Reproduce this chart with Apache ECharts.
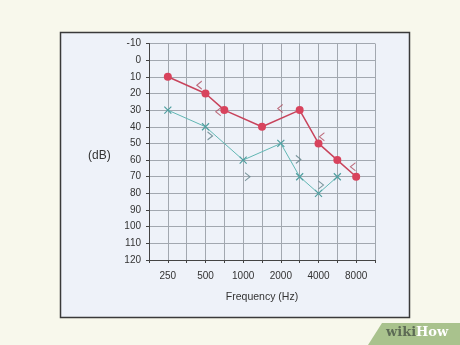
<!DOCTYPE html>
<html>
<head>
<meta charset="utf-8">
<script src="https://cdn.jsdelivr.net/npm/echarts@6/dist/echarts.min.js"></script>
<style>
  html, body { margin: 0; padding: 0; background: #f8f8ec; }
  #chart { width: 460px; height: 345px; }
</style>
</head>
<body>
<div id="chart"></div>
<script>
// Frequency slots along the x axis (one grid column each), and the labels shown under them
const slotFreqs  = [null, 250, 375, 500, 750, 1000, 1500, 2000, 3000, 4000, 6000, 8000, null];
const tickLabels = ['', '250', '', '500', '', '1000', '', '2000', '', '4000', '', '8000', ''];

// Hearing levels (dB) — red circles
const redFreqs = [250, 500, 750, 1500, 3000, 4000, 6000, 8000];
const redDb    = [10, 20, 30, 40, 30, 50, 60, 70];

// Hearing levels (dB) — teal crosses
const tealFreqs = [250, 500, 1000, 2000, 3000, 4000, 6000];
const tealDb    = [30, 40, 60, 50, 70, 80, 70];

// Bone-conduction brackets: [slot position, dB]
const redBrackets  = [[2.67, 15], [3.68, 31], [6.97, 29], [9.18, 46], [10.83, 64]];
const tealBrackets = [[3.24, 45.5], [5.23, 70], [7.93, 59.6], [9.13, 75]];

const yTicks = { min: -10, max: 120, step: 10 };

const slotOf = f => slotFreqs.indexOf(f);
const pairs = (fs, vs) => fs.map((f, i) => [slotOf(f), vs[i]]);

const RED = '#d8435d';
const TEAL = '#62b7b4';
const FONT = '"Liberation Sans", Arial, sans-serif';

const chart = echarts.init(document.getElementById('chart'), null, { renderer: 'canvas' });

chart.setOption({
  backgroundColor: '#f8f8ec',
  animation: false,
  graphic: [
    {
      type: 'rect', z: -10,
      shape: { x: 60.5, y: 32.5, width: 349, height: 285 },
      style: { fill: '#eef2f9', stroke: '#3a3a3a', lineWidth: 1.5 }
    },
    {
      type: 'text', left: 88, top: 150,
      style: { text: '(dB)', font: '12px ' + FONT, fill: '#333' }
    },
    {
      type: 'polygon', z: -5,
      shape: { points: [[382, 323], [460, 323], [460, 345], [368, 345]] },
      style: { fill: '#a9c28d' }
    },
    {
      type: 'text', left: 386, top: 326,
      style: {
        rich: {
          a: { font: 'bold 13px "DejaVu Serif", "Liberation Serif", serif', fill: '#5d6b55' },
          b: { font: 'bold 13px "DejaVu Serif", "Liberation Serif", serif', fill: '#ffffff' }
        },
        text: '{a|wiki}{b|How}'
      }
    }
  ],
  grid: { left: 149, right: 85, top: 43.5, bottom: 85, containLabel: false },
  xAxis: {
    type: 'value',
    min: 0, max: slotFreqs.length - 1, interval: 1,
    name: 'Frequency (Hz)',
    nameLocation: 'middle',
    nameGap: 32,
    nameTextStyle: { fontSize: 10.5, color: '#333', fontFamily: FONT },
    axisLine: { show: true, onZero: false, lineStyle: { color: '#444', width: 1 } },
    axisTick: { show: true, inside: false, length: 3, lineStyle: { color: '#444' } },
    axisLabel: {
      margin: 11, fontSize: 10, color: '#333', fontFamily: FONT,
      formatter: v => tickLabels[Math.round(v)] || ''
    },
    splitLine: { show: true, lineStyle: { color: '#a2a8b0', width: 1 } }
  },
  yAxis: {
    type: 'value',
    inverse: true,
    min: yTicks.min, max: yTicks.max, interval: yTicks.step,
    axisLine: { show: true, onZero: false, lineStyle: { color: '#444', width: 1 } },
    axisTick: { show: true, inside: false, length: 3, lineStyle: { color: '#444' } },
    axisLabel: { margin: 8, fontSize: 10, color: '#333', fontFamily: FONT },
    splitLine: { show: true, lineStyle: { color: '#a2a8b0', width: 1 } }
  },
  series: [
    {
      type: 'line',
      data: pairs(tealFreqs, tealDb),
      symbol: 'path://M0,0L10,10M10,0L0,10',
      symbolSize: 7,
      lineStyle: { color: TEAL, width: 1 },
      itemStyle: { color: 'none', borderColor: '#4f9fa0', borderWidth: 1.2 },
      z: 3
    },
    {
      type: 'line',
      data: pairs(redFreqs, redDb),
      symbol: 'circle',
      symbolSize: 8,
      lineStyle: { color: '#c8445c', width: 1.5 },
      itemStyle: { color: RED, borderWidth: 0 },
      z: 4
    },
    {
      type: 'scatter',
      data: redBrackets,
      symbol: 'path://M6,0L0,5L6,10',
      symbolSize: [5, 8],
      itemStyle: { color: 'none', borderColor: '#b04a5c', borderWidth: 1 },
      z: 5
    },
    {
      type: 'scatter',
      data: tealBrackets,
      symbol: 'path://M0,0L6,5L0,10',
      symbolSize: [5, 8],
      itemStyle: { color: 'none', borderColor: '#5e7f86', borderWidth: 1 },
      z: 5
    }
  ]
});
</script>
</body>
</html>
